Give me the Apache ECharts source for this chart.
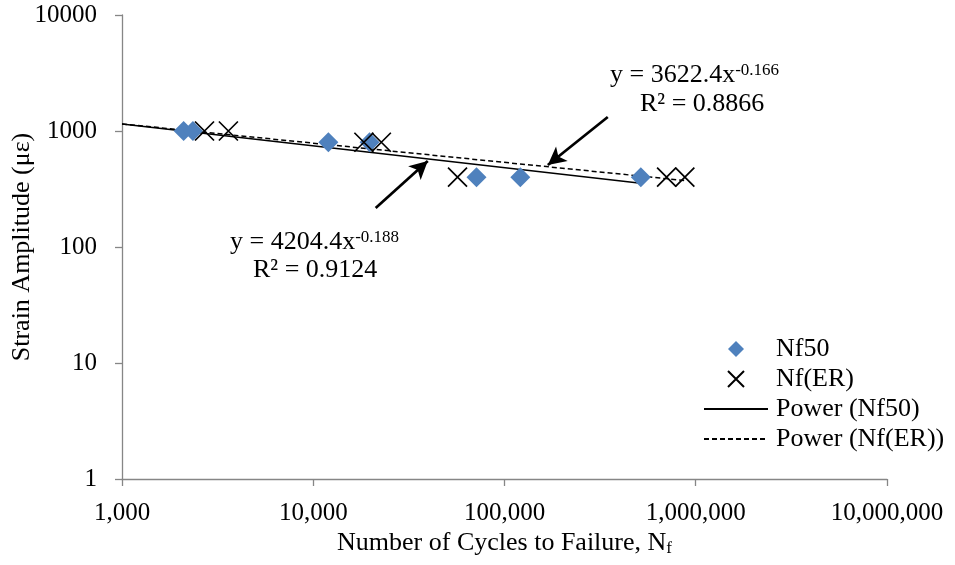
<!DOCTYPE html>
<html>
<head>
<meta charset="utf-8">
<script src="https://cdn.jsdelivr.net/npm/echarts@6/dist/echarts.min.js"></script>
<style>
html,body{margin:0;padding:0;background:#fff;}
#chart{width:955px;height:565px;}
</style>
</head>
<body>
<div id="chart"></div>
<script>
// Data
const nf50Cycles = [2100, 2350, 12000, 19700, 71400, 121000, 516000];
const nf50Strain = [1000, 1000, 800, 800, 400, 400, 400];
const nfERCycles = [2700, 3600, 18400, 22700, 56800, 704000, 877000];
const nfERStrain = [1000, 1000, 800, 800, 400, 400, 400];
// Excel power trendlines (end points)
const powerNf50Cycles = [1000, 516000];
const powerNf50Strain = [1147, 355];
const powerNfERCycles = [1000, 877000];
const powerNfERStrain = [1151, 374];
// Annotation arrows (start -> tip), in data coordinates
const arrow1 = [[21200, 217], [39700, 551]];
const arrow2 = [[346700, 1321], [168500, 509]];
const xTicks = [1000, 10000, 100000, 1000000, 10000000];
const yTicks = [1, 10, 100, 1000, 10000];

const FONT = '"Liberation Serif", "Times New Roman", serif';
const zip = (a, b) => a.map((v, i) => [v, b[i]]);
const DIAMOND = 'path://M5,0L10,5L5,10L0,5Z';
const XMARK = 'path://M0,0L10,10M10,0L0,10';

const chart = echarts.init(document.getElementById('chart'), null, {renderer: 'canvas'});
const option = {
  animation: false,
  backgroundColor: '#fff',
  textStyle: {fontFamily: FONT, color: '#000'},
  grid: {left: 122, right: 68, top: 15, bottom: 86, containLabel: false, outerBoundsMode: 'none'},
  xAxis: {
    type: 'log', logBase: 10, min: xTicks[0], max: xTicks[xTicks.length - 1],
    name: '{a|Number of Cycles to Failure, N}{s|f}',
    nameLocation: 'middle', nameGap: 51, nameMoveOverlap: false,
    nameTextStyle: {
      rich: {
        a: {fontFamily: FONT, fontSize: 26, color: '#000'},
        s: {fontFamily: FONT, fontSize: 17, color: '#000', verticalAlign: 'bottom', padding: [10, 0, 0, 0]}
      }
    },
    axisLine: {lineStyle: {color: '#868686', width: 1.3}},
    axisTick: {show: true, inside: false, length: 7, lineStyle: {color: '#868686', width: 1.3}},
    axisLabel: {
      margin: 22, fontFamily: FONT, fontSize: 25, color: '#000',
      formatter: v => String(Math.round(v)).replace(/\B(?=(\d{3})+(?!\d))/g, ',')
    },
    splitLine: {show: false},
    minorTick: {show: false}
  },
  yAxis: {
    type: 'log', logBase: 10, min: yTicks[0], max: yTicks[yTicks.length - 1],
    name: 'Strain Amplitude (με)',
    nameLocation: 'middle', nameGap: 87, nameMoveOverlap: false,
    nameTextStyle: {fontFamily: FONT, fontSize: 26, color: '#000'},
    axisLine: {show: true, lineStyle: {color: '#868686', width: 1.3}},
    axisTick: {show: true, inside: false, length: 7, lineStyle: {color: '#868686', width: 1.3}},
    axisLabel: {margin: 25, fontFamily: FONT, fontSize: 25, color: '#000',
      formatter: v => String(Math.round(v))},
    splitLine: {show: false},
    minorTick: {show: false}
  },
  legend: {
    orient: 'vertical', left: 698, top: 331, itemWidth: 64, itemHeight: 16, itemGap: 4,
    symbolKeepAspect: true,
    textStyle: {fontFamily: FONT, fontSize: 26, color: '#000', padding: [0, 0, 0, 3]},
    data: [
      {name: 'Nf50', icon: DIAMOND},
      {name: 'Nf(ER)'},
      {name: 'Power (Nf50)', itemStyle: {opacity: 0}},
      {name: 'Power (Nf(ER))', itemStyle: {opacity: 0}}
    ]
  },
  series: [
    {
      name: 'Power (Nf50)', type: 'line', data: zip(powerNf50Cycles, powerNf50Strain),
      showSymbol: false, symbol: 'none', z: 2,
      lineStyle: {color: '#000', width: 1.5, type: 'solid'},
      itemStyle: {color: '#000'},
      markLine: {
        silent: true, symbol: ['none', 'arrow'], symbolSize: [14, 18],
        label: {show: false},
        lineStyle: {color: '#000', width: 2.7, type: 'solid'},
        data: [
          [{coord: arrow1[0]}, {coord: arrow1[1]}],
          [{coord: arrow2[0]}, {coord: arrow2[1]}]
        ]
      }
    },
    {
      name: 'Power (Nf(ER))', type: 'line', data: zip(powerNfERCycles, powerNfERStrain),
      showSymbol: false, symbol: 'none', z: 2,
      lineStyle: {color: '#000', width: 1.5, type: [5, 3]},
      itemStyle: {color: '#000'}
    },
    {
      name: 'Nf50', type: 'scatter', data: zip(nf50Cycles, nf50Strain),
      symbol: DIAMOND, symbolSize: 20, z: 3,
      itemStyle: {color: '#4F81BD', opacity: 1}
    },
    {
      name: 'Nf(ER)', type: 'scatter', data: zip(nfERCycles, nfERStrain),
      symbol: XMARK, symbolSize: 19, z: 4,
      itemStyle: {color: 'rgba(0,0,0,0)', borderColor: '#000', borderWidth: 1.7, opacity: 1}
    }
  ],
  graphic: [
    {
      type: 'text', left: 610, top: 62, z: 10,
      style: {
        text: '{a|y = 3622.4x}{s|-0.166}',
        rich: {
          a: {fontFamily: FONT, fontSize: 26, fill: '#000'},
          s: {fontFamily: FONT, fontSize: 17, fill: '#000', verticalAlign: 'top'}
        }
      }
    },
    {
      type: 'text', left: 640, top: 91, z: 10,
      style: {text: 'R² = 0.8866', font: '26px ' + FONT, fill: '#000'}
    },
    {
      type: 'text', left: 230, top: 229, z: 10,
      style: {
        text: '{a|y = 4204.4x}{s|-0.188}',
        rich: {
          a: {fontFamily: FONT, fontSize: 26, fill: '#000'},
          s: {fontFamily: FONT, fontSize: 17, fill: '#000', verticalAlign: 'top'}
        }
      }
    },
    {
      type: 'text', left: 253, top: 257, z: 10,
      style: {text: 'R² = 0.9124', font: '26px ' + FONT, fill: '#000'}
    }
  ]
};
chart.setOption(option);
</script>
</body>
</html>
